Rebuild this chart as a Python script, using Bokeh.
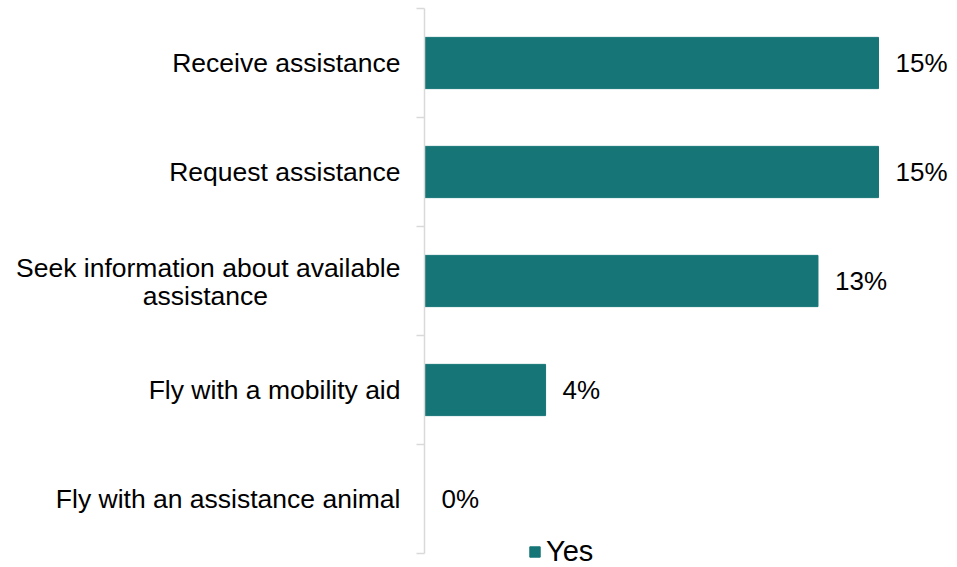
from bokeh.plotting import figure
from bokeh.models import (ColumnDataSource, Range1d, FixedTicker, Legend, LegendItem)
from bokeh.core.properties import value
from bokeh.embed import file_html
from bokeh.resources import INLINE

categories = ["Receive assistance", "Request assistance",
              "Seek information about available\nassistance",
              "Fly with a mobility aid", "Fly with an assistance animal"]
yes_values = [15, 15, 13, 4, 0]
value_labels = ["15%", "15%", "13%", "4%", "0%"]
series_name = "Yes"

idx = list(range(len(categories)))
src = ColumnDataSource(dict(y=idx, v=yes_values, lab=value_labels))

FONT = "Liberation Sans"
BAR = "#167577"
NB = "\u00a0"

# tick labels: wrapped category gets two tick lines, second centred under first
tick_pos, tick_txt = [], []
for i, c in enumerate(categories):
    lines = c.split("\n")
    if len(lines) == 1:
        tick_pos.append(i)
        tick_txt.append(c)
    else:
        tick_pos += [i - 0.118, i + 0.139]
        tick_txt += [lines[0], lines[1] + NB * 18]

p = figure(width=957, height=567, output_backend="svg", toolbar_location=None,
           x_range=Range1d(0, 17.61), y_range=Range1d(4.5 + 14 / 109, -0.5),
           min_border_left=424, min_border_right=0, min_border_top=8,
           min_border_bottom=0)
p.outline_line_color = None
p.grid.visible = False
p.xaxis.visible = False

r = p.hbar(y="y", right="v", left=0, height=0.47, source=src, color=BAR)
p.text(x="v", y="y", text="lab", source=src, x_offset=17,
       text_baseline="middle", text_align="left",
       text_font=value(FONT), text_font_size="26px", text_color="#000000")

ya = p.yaxis[0]
ya.bounds = (-0.5, len(categories) - 0.5)
ya.ticker = FixedTicker(ticks=tick_pos,
                        minor_ticks=[i - 0.5 for i in range(len(categories) + 1)])
ya.major_label_overrides = {t: s for t, s in zip(tick_pos, tick_txt)}
ya.major_tick_out = 0
ya.major_tick_in = 0
ya.minor_tick_out = 8
ya.minor_tick_in = 0
ya.minor_tick_line_color = "#d9d9d9"
ya.minor_tick_line_width = 1.5
ya.axis_line_color = "#d9d9d9"
ya.axis_line_width = 1.5
ya.major_label_standoff = 16
ya.major_label_text_font = FONT
ya.major_label_text_font_size = "26.5px"
ya.major_label_text_color = "#000000"

leg = Legend(items=[LegendItem(label=series_name, renderers=[r])],
             location=(104, -1), orientation="horizontal",
             glyph_width=13, glyph_height=13, label_standoff=5,
             padding=0, margin=0, border_line_color=None,
             background_fill_alpha=0, label_text_font=FONT,
             label_text_font_size="29px", label_text_color="#000000")
p.add_layout(leg)

open("out.html", "w").write(file_html(p, INLINE))
